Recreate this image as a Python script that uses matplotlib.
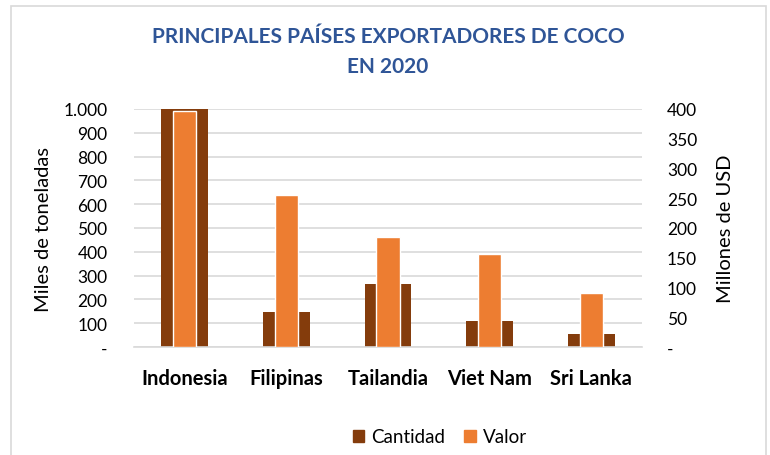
import matplotlib.pyplot as plt
import numpy as np
from matplotlib.patches import Rectangle, Patch

paises = ['Indonesia', 'Filipinas', 'Tailandia', 'Viet Nam', 'Sri Lanka']
cantidad = [1000, 147, 263, 109, 55]    # miles de toneladas
valor = [397, 255, 185, 156, 91]        # millones de USD

left_ticks = [0, 100, 200, 300, 400, 500, 600, 700, 800, 900, 1000]
left_labels = ['-', '100', '200', '300', '400', '500', '600', '700', '800', '900', '1.000']
right_ticks = [0, 50, 100, 150, 200, 250, 300, 350, 400]
right_labels = ['-', '50', '100', '150', '200', '250', '300', '350', '400']

brown = '#843c0c'
orange = '#ed7d31'
grid_col = '#d9d9d9'
font = 'Lato'

fig = plt.figure(figsize=(7.7, 4.56), dpi=100)
fig.patches.append(Rectangle((11 / 770, -0.1), 755 / 770, 1.1 - 7 / 456,
                             transform=fig.transFigure, fill=False,
                             edgecolor='#d9d9d9', linewidth=1.2))

ax = fig.add_axes([134 / 770, 108 / 456, 508 / 770, 238 / 456])
ax2 = ax.twinx()

x = np.arange(len(paises))
ax.bar(x, cantidad, width=0.46, color=brown, zorder=2)
ax2.bar(x, valor, width=0.23, color=orange, edgecolor='white', linewidth=1, zorder=3)

ax.set_xlim(-0.5, len(paises) - 0.5)
ax.set_ylim(0, 1000)
ax2.set_ylim(0, 400)

ax.set_yticks(left_ticks)
ax.set_yticklabels(left_labels, fontsize=12.5, family=font)
ax2.set_yticks(right_ticks)
ax2.set_yticklabels(right_labels, fontsize=12.5, family=font)
ax.set_xticks(x)
ax.set_xticklabels(paises, fontsize=14.5, fontweight='bold', family=font)

ax.yaxis.grid(True, color=grid_col, linewidth=1.2, zorder=0)
ax.set_axisbelow(True)
for a in (ax, ax2):
    for s in a.spines.values():
        s.set_visible(False)
    a.tick_params(length=0)
ax.spines['bottom'].set_visible(True)
ax.spines['bottom'].set_color(grid_col)
ax.spines['bottom'].set_linewidth(1.2)
ax.tick_params(axis='x', pad=15)
ax.tick_params(axis='y', pad=19)
ax2.tick_params(axis='y', pad=18)

ax.set_ylabel('Miles de toneladas', fontsize=14.5, family=font, labelpad=8)
ax2.set_ylabel('Millones de USD', fontsize=14.5, family=font, labelpad=14)

fig.text(388 / 770, 1 - 52 / 456, 'PRINCIPALES PAÍSES EXPORTADORES DE COCO\nEN 2020',
         ha='center', va='center', fontsize=15, fontweight='bold',
         color='#2f5597', family=font, linespacing=1.6)

handles = [Patch(color=brown, label='Cantidad'), Patch(color=orange, label='Valor')]
fig.legend(handles=handles, loc='center', bbox_to_anchor=(440 / 770, 1 - 438 / 456),
           ncol=2, frameon=False, prop={'family': font, 'size': 13.5},
           handlelength=0.6, handleheight=0.6, columnspacing=1.0, handletextpad=0.4)

fig.savefig('out.png', dpi=100, facecolor='white')
